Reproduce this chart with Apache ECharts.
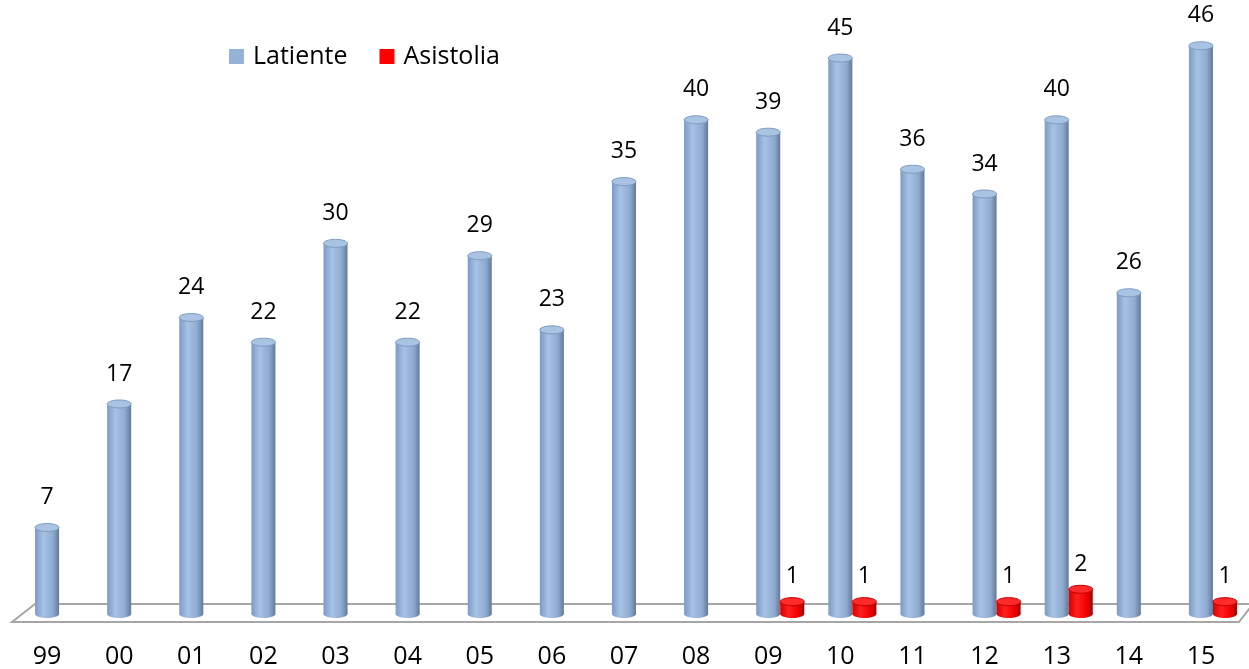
<!DOCTYPE html>
<html>
<head>
<meta charset="utf-8">
<script src="https://cdn.jsdelivr.net/npm/echarts@6/dist/echarts.min.js"></script>
<style>
  html, body { margin: 0; padding: 0; background: #fff; }
  #chart { width: 1249px; height: 669px; }
</style>
</head>
<body>
<div id="chart"></div>
<script>
  const years = ['99', '00', '01', '02', '03', '04', '05', '06', '07', '08',
    '09', '10', '11', '12', '13', '14', '15'];
  const latiente = [7, 17, 24, 22, 30, 22, 29, 23, 35, 40, 39, 45, 36, 34, 40, 26, 46];
  const asistolia = [0, 0, 0, 0, 0, 0, 0, 0, 0, 0, 1, 1, 0, 1, 2, 0, 1];

  const font = '"Open Sans", "Noto Sans", sans-serif';

  const looks = {
    blue: {
      body: ['#7d9bc3', '#a6c2e5', '#8eaad0', '#62799b'],
      top: '#a9c3e3',
      edge: '#7f9ac0',
      labelGap: 30
    },
    red: {
      body: ['#d80000', '#ff2020', '#f00000', '#a80000'],
      top: '#ff2a2a',
      edge: '#c00000',
      labelGap: 25
    }
  };

  // one cylinder: body, bottom cap, top cap, value text
  const cylinder = (look, side) => (params, api) => {
    const cat = api.value(0);
    const val = api.value(1);
    if (!val) return null;
    const band = api.size([1, 0])[0];
    const w = band / 3;
    const top = api.coord([cat, val]);
    const base = api.coord([cat, 0]);
    const cx = top[0] + side * w / 2;
    const ry = 4;
    const grad = new echarts.graphic.LinearGradient(0, 0, 1, 0, [
      { offset: 0, color: look.body[0] },
      { offset: 0.35, color: look.body[1] },
      { offset: 0.75, color: look.body[2] },
      { offset: 1, color: look.body[3] }
    ]);
    return {
      type: 'group',
      children: [
        {
          type: 'ellipse',
          shape: { cx: cx, cy: base[1], rx: w / 2, ry: ry },
          style: { fill: grad }
        },
        {
          type: 'rect',
          shape: { x: cx - w / 2, y: top[1], width: w, height: base[1] - top[1] },
          style: { fill: grad }
        },
        {
          type: 'ellipse',
          shape: { cx: cx, cy: top[1], rx: w / 2, ry: ry },
          style: { fill: look.top, stroke: look.edge, lineWidth: 1 }
        },
        {
          type: 'text',
          style: {
            text: String(val),
            x: cx,
            y: top[1] - look.labelGap,
            align: 'center',
            verticalAlign: 'middle',
            fontSize: 23,
            fontFamily: font,
            fill: '#000'
          }
        }
      ]
    };
  };

  // the grey floor under the bars
  const floor = (params, api) => {
    const cs = params.coordSys;
    const base = api.coord([0, 0])[1];
    const back = base - 10;
    const front = base + 8;
    return {
      type: 'polygon',
      silent: true,
      shape: {
        points: [
          [cs.x + 12, back],
          [cs.x + cs.width + 4, back],
          [cs.x + cs.width - 10, front],
          [cs.x - 11, front]
        ]
      },
      style: { fill: '#fff', stroke: '#a6a6a6', lineWidth: 2 }
    };
  };

  const chart = echarts.init(document.getElementById('chart'));
  chart.setOption({
    animation: false,
    legend: {
      left: 229,
      top: 44,
      padding: 0,
      itemWidth: 15,
      itemHeight: 15,
      itemGap: 32,
      icon: 'rect',
      textStyle: { fontSize: 25, fontFamily: font, color: '#000', padding: [0, 0, 0, 4] },
      data: ['Latiente', 'Asistolia']
    },
    grid: { left: 23, width: 1228, top: 21, bottom: 55 },
    xAxis: {
      type: 'category',
      data: years,
      axisLine: { show: false },
      axisTick: { show: false },
      axisLabel: {
        margin: 30,
        fontSize: 25,
        fontFamily: font,
        color: '#000',
        padding: [0, 24, 0, 0]
      }
    },
    yAxis: {
      type: 'value',
      min: 0,
      max: 48,
      show: false,
      splitLine: { show: false }
    },
    series: [
      {
        name: 'floor',
        type: 'custom',
        renderItem: floor,
        data: [[0, 0]],
        z: 1,
        silent: true
      },
      {
        name: 'Latiente',
        type: 'custom',
        renderItem: cylinder(looks.blue, -1),
        itemStyle: { color: '#95b3d7' },
        data: latiente.map((v, i) => [i, v]),
        z: 2
      },
      {
        name: 'Asistolia',
        type: 'custom',
        renderItem: cylinder(looks.red, 1),
        itemStyle: { color: '#ff0000' },
        data: asistolia.map((v, i) => [i, v]),
        z: 3
      }
    ]
  });
</script>
</body>
</html>
